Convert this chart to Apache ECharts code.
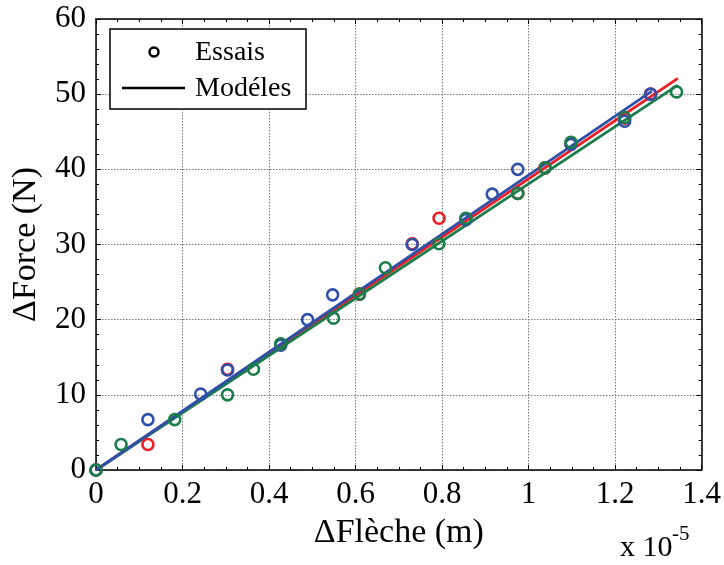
<!DOCTYPE html>
<html><head><meta charset="utf-8">
<script src="https://cdn.jsdelivr.net/npm/echarts@6/dist/echarts.min.js"></script>
<style>html,body{margin:0;padding:0;background:#fff}#c{width:724px;height:565px}</style>
</head><body><div id="c"></div>
<script>
// ---- data (ΔFlèche in units of 1e-5 m, ΔForce in N) ----
const redX   = [0, 0.120, 0.304, 0.609, 0.731, 0.793, 0.975, 1.038, 1.098, 1.222, 1.282];
const redY   = [0, 3.4, 13.4, 23.4, 30.1, 33.5, 36.8, 40.2, 43.5, 46.8, 50.0];
const blueX  = [0, 0.120, 0.242, 0.304, 0.427, 0.489, 0.547, 0.731, 0.855, 0.916, 0.975, 1.098, 1.222, 1.282];
const blueY  = [0, 6.7, 10.1, 13.3, 16.6, 20.0, 23.3, 30.0, 33.3, 36.7, 40.0, 43.3, 46.4, 50.0];
const greenX = [0, 0.058, 0.182, 0.304, 0.364, 0.427, 0.549, 0.609, 0.669, 0.793, 0.855, 0.975, 1.038, 1.098, 1.222, 1.342];
const greenY = [0, 3.4, 6.7, 10.0, 13.4, 16.8, 20.2, 23.4, 26.9, 30.1, 33.5, 36.8, 40.2, 43.6, 46.9, 50.3];
// model lines (start / end points)
const redModelX   = [0, 1.345];
const redModelY   = [0, 52.1];
const blueModelX  = [0, 1.285];
const blueModelY  = [0, 50.4];
const greenModelX = [0, 1.345];
const greenModelY = [0, 51.2];
const xTickLabels = ['0','0.2','0.4','0.6','0.8','1','1.2','1.4'];
const yTickLabels = ['0','10','20','30','40','50','60'];

const RED = '#ee1d23', BLUE = '#2f4fa8', GREEN = '#1b7d4b';
const FONT = 'Liberation Serif';
const zip = (a, b) => a.map((v, i) => [v, b[i]]);

const chart = echarts.init(document.getElementById('c'), null, {renderer: 'canvas'});

const axisCommon = {
  axisLine: {show: true, onZero: false, lineStyle: {color: '#000', width: 1.5}},
  axisTick: {show: true, inside: true, length: 5, lineStyle: {color: '#000', width: 1}},
  minorTick: {show: true, length: 3, lineStyle: {color: '#000', width: 1}},
};

function scatter(name, xs, ys, color) {
  return {
    type: 'scatter', name, data: zip(xs, ys), symbol: 'circle', symbolSize: 11,
    itemStyle: {color: 'rgba(0,0,0,0)', borderColor: color, borderWidth: 2.6, opacity: 1},
    z: 3, silent: true
  };
}
function model(name, xs, ys, color) {
  return {
    type: 'line', name, data: zip(xs, ys), symbol: 'none',
    lineStyle: {color, width: 2.8}, z: 2, silent: true, animation: false
  };
}

chart.setOption({
  animation: false,
  backgroundColor: '#fff',
  grid: {left: 96, right: 21, top: 19, bottom: 95, containLabel: false},
  xAxis: [
    Object.assign({}, axisCommon, {
      type: 'value', min: 0, max: 1.4, interval: 0.2, position: 'bottom',
      minorTick: Object.assign({}, axisCommon.minorTick, {splitNumber: 4}),
      axisLabel: {show: true, margin: 9, color: '#000', fontFamily: FONT, fontSize: 31,
        formatter: (v) => xTickLabels[Math.round(v / 0.2)]},
      splitLine: {show: true, lineStyle: {color: '#7a7a7a', width: 1, type: [1.5, 1.5]}},
      name: 'ΔFlèche (m)', nameLocation: 'middle', nameGap: 46,
      nameTextStyle: {color: '#000', fontFamily: FONT, fontSize: 34}
    }),
    Object.assign({}, axisCommon, {
      type: 'value', min: 0, max: 1.4, interval: 0.2, position: 'top',
      minorTick: Object.assign({}, axisCommon.minorTick, {splitNumber: 4}),
      axisLabel: {show: false}, splitLine: {show: false}
    })
  ],
  yAxis: [
    Object.assign({}, axisCommon, {
      type: 'value', min: 0, max: 60, interval: 10, position: 'left',
      minorTick: Object.assign({}, axisCommon.minorTick, {splitNumber: 5}),
      axisLabel: {show: true, margin: 10, color: '#000', fontFamily: FONT, fontSize: 31,
        formatter: (v) => yTickLabels[Math.round(v / 10)]},
      splitLine: {show: true, lineStyle: {color: '#7a7a7a', width: 1, type: [1.5, 1.5]}},
      name: 'ΔForce (N)', nameLocation: 'middle', nameGap: 53,
      nameTextStyle: {color: '#000', fontFamily: FONT, fontSize: 34}
    }),
    Object.assign({}, axisCommon, {
      type: 'value', min: 0, max: 60, interval: 10, position: 'right',
      minorTick: Object.assign({}, axisCommon.minorTick, {splitNumber: 5}),
      axisLabel: {show: false}, splitLine: {show: false}
    })
  ],
  series: [
    model('Modèle rouge', redModelX, redModelY, RED),
    model('Modèle vert', greenModelX, greenModelY, GREEN),
    model('Modèle bleu', blueModelX, blueModelY, BLUE),
    scatter('Essais rouge', redX, redY, RED),
    scatter('Essais bleu', blueX, blueY, BLUE),
    scatter('Essais vert', greenX, greenY, GREEN)
  ],
  graphic: [
    {type: 'rect', z: 100, shape: {x: 110, y: 29, width: 196, height: 80},
      style: {fill: '#fff', stroke: '#000', lineWidth: 1.5}},
    {type: 'circle', z: 101, shape: {cx: 154, cy: 52, r: 4.5},
      style: {fill: 'none', stroke: '#000', lineWidth: 2.5}},
    {type: 'line', z: 101, shape: {x1: 122, y1: 88, x2: 185, y2: 88},
      style: {stroke: '#000', lineWidth: 2.5}},
    {type: 'text', z: 101, x: 195, y: 53,
      style: {text: 'Essais', fill: '#000', font: '28px "Liberation Serif"', verticalAlign: 'middle'}},
    {type: 'text', z: 101, x: 195, y: 89,
      style: {text: 'Modéles', fill: '#000', font: '28px "Liberation Serif"', verticalAlign: 'middle'}},
    {type: 'text', z: 101, x: 620, y: 548,
      style: {text: 'x 10', fill: '#000', font: '30px "Liberation Serif"', verticalAlign: 'middle'}},
    {type: 'text', z: 101, x: 672, y: 534,
      style: {text: '-5', fill: '#000', font: '21px "Liberation Serif"', verticalAlign: 'middle'}}
  ]
});
</script>
</body></html>
